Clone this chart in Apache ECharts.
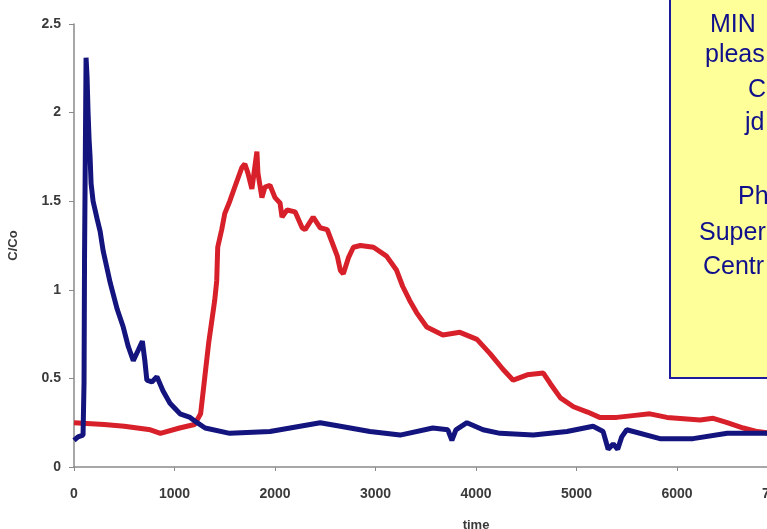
<!DOCTYPE html>
<html><head><meta charset="utf-8">
<script src="https://cdn.jsdelivr.net/npm/echarts@6/dist/echarts.min.js"></script>
<style>html,body{margin:0;padding:0;background:#fff}#c{width:767px;height:529px}</style>
</head><body><div id="c"></div>
<script>
// time values and C/Co for the blue series
const blueT = [0,40,90,100,105,120,130,140,150,160,170,190,210,230,260,290,360,430,490,540,590,640,680,705,725,775,825,885,955,1055,1155,1225,1305,1550,1950,2250,2450,2650,2945,3245,3570,3720,3760,3800,3910,4070,4240,4570,4905,5165,5265,5315,5365,5410,5450,5500,5830,6160,6500,6825,6925];
const blueC = [0.15,0.17,0.18,0.48,1.2,2.31,2.2,2.0,1.85,1.75,1.6,1.5,1.45,1.4,1.33,1.22,1.04,0.89,0.79,0.68,0.6,0.66,0.71,0.6,0.49,0.48,0.51,0.43,0.36,0.3,0.28,0.25,0.22,0.19,0.2,0.23,0.25,0.23,0.2,0.18,0.22,0.21,0.15,0.21,0.25,0.21,0.19,0.18,0.2,0.23,0.2,0.1,0.13,0.1,0.17,0.21,0.16,0.16,0.19,0.19,0.19];
// time values and C/Co for the red series
const redT = [0,300,500,760,860,1050,1200,1260,1300,1340,1400,1420,1430,1470,1500,1550,1600,1670,1700,1730,1770,1820,1830,1870,1900,1950,2000,2050,2070,2120,2200,2270,2300,2380,2450,2520,2580,2620,2650,2680,2730,2780,2850,2980,3110,3210,3270,3340,3410,3510,3670,3840,4010,4140,4270,4370,4510,4670,4740,4840,4970,5110,5230,5400,5560,5730,5900,6230,6360,6500,6660,6800,6930];
const redC = [0.25,0.24,0.23,0.21,0.19,0.22,0.24,0.3,0.5,0.7,0.94,1.05,1.24,1.34,1.43,1.5,1.58,1.69,1.71,1.66,1.57,1.78,1.66,1.52,1.58,1.59,1.52,1.49,1.41,1.45,1.44,1.35,1.34,1.41,1.35,1.34,1.25,1.19,1.11,1.09,1.18,1.24,1.25,1.24,1.19,1.11,1.02,0.94,0.87,0.79,0.745,0.76,0.72,0.64,0.55,0.49,0.52,0.53,0.47,0.39,0.34,0.31,0.28,0.28,0.29,0.3,0.28,0.265,0.275,0.25,0.22,0.2,0.19];
const xTicks = [0,1000,2000,3000,4000,5000,6000,7000,8000];
const yTicks = [0,0.5,1,1.5,2,2.5];
const boxLines = ["MIN","pleas","C","jd","Ph","Super","Centr"];

const chart = echarts.init(document.getElementById('c'));
const axisCol = '#8a8a8a';
const labCol = '#3a3a3a';
const boxTextPos = [[710,25],[705,55],[748,90],[745,123],[738,197],[699,233],[703,267]];
const graphics = [{
  type:'rect', z:100, shape:{x:670,y:-5,width:200,height:383},
  style:{fill:'#ffff99',stroke:'#1c1c9c',lineWidth:2}
}];
boxLines.forEach((t,i)=>{
  graphics.push({type:'text', z:101, x:boxTextPos[i][0], y:boxTextPos[i][1],
    style:{text:t, fill:'#10108c', font:'25px "Liberation Sans", Arial, sans-serif', textVerticalAlign:'middle', textAlign:'left'}});
});
chart.setOption({
  animation:false,
  backgroundColor:'#fff',
  grid:{left:74, top:24, right:-111, bottom:62, containLabel:false, outerBoundsMode:'none'},
  xAxis:{type:'value', min:0, max:8000, interval:1000,
    name:'time', nameLocation:'middle', nameGap:52,
    nameTextStyle:{color:labCol, fontWeight:'bold', fontSize:13, fontFamily:'Liberation Sans'},
    axisLine:{lineStyle:{color:axisCol,width:1.5}},
    axisTick:{length:4,lineStyle:{color:axisCol}},
    axisLabel:{color:labCol, fontWeight:'bold', fontSize:14, fontFamily:'Liberation Sans', margin:20,
      formatter:v=>xTicks.includes(v)?String(v):''},
    splitLine:{show:false}},
  yAxis:{type:'value', min:0, max:2.5, interval:0.5,
    name:'C/Co', nameLocation:'middle', nameGap:54,
    nameTextStyle:{color:labCol, fontWeight:'bold', fontSize:13, fontFamily:'Liberation Sans'},
    axisLine:{show:true,lineStyle:{color:axisCol,width:1.5}},
    axisTick:{show:true,length:5,lineStyle:{color:axisCol}},
    axisLabel:{color:labCol, fontWeight:'bold', fontSize:14, fontFamily:'Liberation Sans', margin:13,
      formatter:v=>yTicks.includes(v)?String(v):''},
    splitLine:{show:false}},
  series:[
    {type:'line', data:redT.map((t,i)=>[t,redC[i]]), showSymbol:false, z:2,
      lineStyle:{color:'#d8202a',width:5}, itemStyle:{color:'#d8202a'}},
    {type:'line', data:blueT.map((t,i)=>[t,blueC[i]]), showSymbol:false, z:3,
      lineStyle:{color:'#14147e',width:5}, itemStyle:{color:'#14147e'}}
  ],
  graphic:graphics
});
</script></body></html>
